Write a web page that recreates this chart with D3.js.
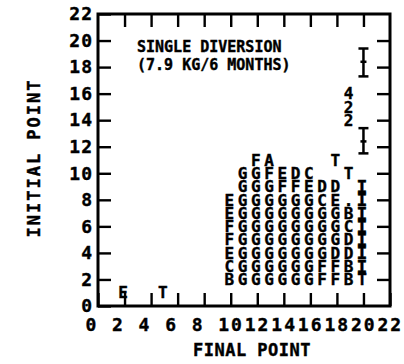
<!DOCTYPE html>
<html>
<head>
<meta charset="utf-8">
<script src="https://cdn.jsdelivr.net/npm/d3@7"></script>
<style>
  body { margin: 0; background: #fff; }
  svg { display: block; }
  text { font-family: "DejaVu Sans Mono", monospace; font-weight: bold; fill: #000; stroke: #000; stroke-width: 0.4px; }
</style>
</head>
<body>
<svg id="chart"></svg>
<script>
// Constants
const width = 404;
const height = 364;
const margin = { top: 14, right: 14, bottom: 58, left: 98 };

// Tick values
const xTicks = [0, 2, 4, 6, 8, 10, 12, 14, 16, 18, 20, 22];
const yTicks = [0, 2, 4, 6, 8, 10, 12, 14, 16, 18, 20, 22];

// Character plot: each row starts at final point 10, one char per unit
const gridStart = 10;
const gridInitial = [11, 10, 9, 8, 7, 6, 5, 4, 3, 2];
const gridSymbols = [
  "  FA    T  ",
  " GGFEDC  T ",
  " GGGFFEDD I",
  "EGGGGGGCE.I",
  "EGGGGGGGGBI",
  "FGGGGGGGGCI",
  "FGGGGGGGGDI",
  "EGGGGGGGDDI",
  "CGGGGGGFFBI",
  "BGGGGGGFFBT"
];

// Isolated symbols
const pointFinal = [2, 5, 19, 19, 19];
const pointInitial = [1, 1, 16, 15, 14];
const pointSymbol = ["E", "T", "4", "2", "2"];

// Range bars at final point 20
const barFinal = [20, 20];
const barLow = [17.3, 11.5];
const barMid = [18.4, 12.4];
const barHigh = [19.4, 13.4];

const svg = d3.select("#chart")
  .attr("width", width)
  .attr("height", height);

const x = d3.scaleLinear()
  .domain([0, 22])
  .range([margin.left, width - margin.right]);

const y = d3.scaleLinear()
  .domain([0, 22])
  .range([height - margin.bottom, margin.top]);

// Axes (ticks point inward on all four sides)
const gBottom = svg.append("g")
  .attr("transform", `translate(0,${y(0)})`)
  .call(d3.axisBottom(x).tickValues(xTicks).tickSize(-13).tickPadding(12));

gBottom.selectAll("text")
  .attr("text-anchor", "start")
  .attr("dx", -13)
  .style("font-size", "18px")
  .style("letter-spacing", "2px");

const gLeft = svg.append("g")
  .attr("transform", `translate(${x(0)},0)`)
  .call(d3.axisLeft(y).tickValues(yTicks).tickSize(-13).tickPadding(5));

gLeft.selectAll("text")
  .style("font-size", "18px")
  .style("letter-spacing", "1px");

svg.append("g")
  .attr("transform", `translate(0,${y(22)})`)
  .call(d3.axisTop(x).tickValues(xTicks.slice(1, -1)).tickSize(-13).tickFormat(""));

svg.append("g")
  .attr("transform", `translate(${x(22)},0)`)
  .call(d3.axisRight(y).tickValues(yTicks.slice(1, -1)).tickSize(-13).tickFormat(""));

svg.selectAll(".tick line")
  .attr("stroke", "#000")
  .attr("stroke-width", 2.4);
svg.selectAll(".domain").remove();

// Frame
svg.append("rect")
  .attr("x", x(0))
  .attr("y", y(22))
  .attr("width", x(22) - x(0))
  .attr("height", y(0) - y(22))
  .attr("fill", "none")
  .attr("stroke", "#000")
  .attr("stroke-width", 3);

// Build symbol list from the grid rows
const symbols = [];
gridSymbols.forEach((row, i) => {
  row.split("").forEach((ch, j) => {
    if (ch !== " ") symbols.push({ final: gridStart + j, initial: gridInitial[i], ch });
  });
});
pointSymbol.forEach((ch, i) => {
  symbols.push({ final: pointFinal[i], initial: pointInitial[i], ch });
});

svg.append("g")
  .selectAll("text")
  .data(symbols)
  .join("text")
    .attr("x", d => x(d.final) - 1.5)
    .attr("y", d => y(d.initial))
    .attr("dy", "0.36em")
    .attr("text-anchor", "middle")
    .style("font-size", d => d.ch === "I" ? "18px" : "16px")
    .text(d => d.ch);

// Range bars
const bars = barFinal.map((f, i) => ({ final: f, low: barLow[i], mid: barMid[i], high: barHigh[i] }));
const gBars = svg.append("g")
  .attr("stroke", "#000")
  .attr("stroke-width", 2.5);

gBars.selectAll("line.stem")
  .data(bars)
  .join("line")
    .attr("class", "stem")
    .attr("x1", d => x(d.final))
    .attr("x2", d => x(d.final))
    .attr("y1", d => y(d.low))
    .attr("y2", d => y(d.high));

["low", "mid", "high"].forEach(k => {
  gBars.selectAll(`line.${k}`)
    .data(bars)
    .join("line")
      .attr("class", k)
      .attr("x1", d => x(d.final) - (k === "mid" ? 3 : 5))
      .attr("x2", d => x(d.final) + (k === "mid" ? 3 : 5))
      .attr("y1", d => y(d[k]))
      .attr("y2", d => y(d[k]));
});

// Annotation
const note = svg.append("g").style("font-size", "15px");
note.append("text").attr("x", 137).attr("y", 52).text("SINGLE DIVERSION");
note.append("text").attr("x", 137).attr("y", 70).text("(7.9 KG/6 MONTHS)");

// Axis titles
svg.append("text")
  .attr("x", 252)
  .attr("y", 356)
  .attr("text-anchor", "middle")
  .style("font-size", "17px")
  .style("letter-spacing", "0.5px")
  .text("FINAL POINT");

svg.append("text")
  .attr("transform", `translate(40,158) rotate(-90)`)
  .attr("text-anchor", "middle")
  .style("font-size", "17px")
  .style("letter-spacing", "2px")
  .text("INITIAL POINT");
</script>
</body>
</html>
